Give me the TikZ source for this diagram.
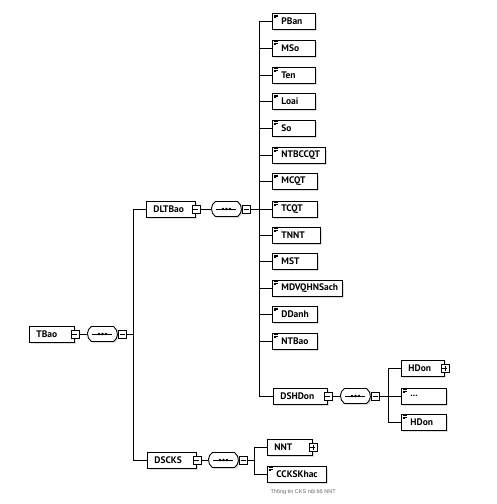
\documentclass[tikz,border=0pt]{standalone}
\usepackage{fontspec}
\setsansfont{PT Sans}
\newfontfamily\capfont{Liberation Sans}
\usepackage{tikz}
\usetikzlibrary{shapes.misc, shadows}

\tikzset{
  elem/.style={draw, line width=0.9pt, fill=white, anchor=west, minimum height=16pt,
    inner xsep=0pt, inner ysep=0pt, text width=#1, align=left,
    font=\sffamily\bfseries\fontsize{9.5}{10}\selectfont,
    drop shadow={shadow xshift=1.5pt, shadow yshift=-1.5pt, opacity=0.25}},
  branch/.style={elem=#1, execute at begin node=\hspace*{7pt}},
  leaf/.style={elem=#1, execute at begin node=\hspace*{9pt},
    path picture={
      \draw[black, line width=0.5pt] ([xshift=1.5pt,yshift=-1.5pt]path picture bounding box.north west) -- ++(4pt,0);
      \draw[black, line width=0.5pt] ([xshift=1.5pt,yshift=-2.8pt]path picture bounding box.north west) -- ++(4pt,0);
      \draw[black, line width=0.5pt] ([xshift=1.5pt,yshift=-4.1pt]path picture bounding box.north west) -- ++(2.5pt,0);}},
  minus/.style={draw, line width=0.7pt, fill=white, minimum size=8pt, inner sep=0pt,
    path picture={\draw[black, line width=0.7pt] ([xshift=1.5pt]path picture bounding box.west) -- ([xshift=-1.5pt]path picture bounding box.east);}},
  plus/.style={draw, line width=0.7pt, fill=white, minimum size=8pt, inner sep=0pt,
    path picture={
      \draw[black, line width=0.7pt] ([xshift=1.5pt]path picture bounding box.west) -- ([xshift=-1.5pt]path picture bounding box.east);
      \draw[black, line width=0.7pt] ([yshift=1.5pt]path picture bounding box.south) -- ([yshift=-1.5pt]path picture bounding box.north);}},
  seq/.style={rounded rectangle, rounded rectangle arc length=110, draw, line width=0.9pt, fill=white,
    anchor=west, minimum width=30pt, minimum height=15pt, inner sep=0pt,
    drop shadow={shadow xshift=1.5pt, shadow yshift=-1.5pt, opacity=0.25},
    path picture={
      \draw[black, line width=0.7pt] ([xshift=-10pt]path picture bounding box.center) -- ([xshift=10pt]path picture bounding box.center);
      \fill[black] ([xshift=-3.5pt]path picture bounding box.center) circle (1.4pt);
      \fill[black] (path picture bounding box.center) circle (1.4pt);
      \fill[black] ([xshift=3.5pt]path picture bounding box.center) circle (1.4pt);}},
  conn/.style={line width=0.9pt},
}

\begin{document}
\begin{tikzpicture}[x=1pt,y=-1pt]
\useasboundingbox (0,0) rectangle (496,504);

% root
\node[branch=45pt] (tbao) at (29,334) {TBao};
\node[minus] (tbaom) at (tbao.east) {};
\node[seq] (seq0) at (87,334) {};
\node[minus, anchor=west] (seq0m) at (seq0.east) {};
\coordinate (j0) at (133,334);

% DLTBao
\node[branch=49pt] (dltbao) at (146,209) {DLTBao};
\node[minus] (dltbaom) at (dltbao.east) {};
\node[seq] (seq1) at (211,209) {};
\node[minus, anchor=west] (seq1m) at (seq1.east) {};
\coordinate (j1) at (259,209);

\node[leaf=43pt] (pban) at (272,21.5) {PBan};
\node[leaf=43pt] (mso) at (272,48) {MSo};
\node[leaf=43pt] (ten) at (272,75) {Ten};
\node[leaf=43pt] (loai) at (272,101.5) {Loai};
\node[leaf=43pt] (so) at (272,128) {So};
\node[leaf=53pt] (ntbccqt) at (272,155) {NTBCCQT};
\node[leaf=45pt] (mcqt) at (272,181.5) {MCQT};
\node[leaf=45pt] (tcqt) at (272,209) {TCQT};
\node[leaf=48pt] (tnnt) at (272,235) {TNNT};
\node[leaf=45pt] (mst) at (272,261.5) {MST};
\node[leaf=70pt] (mdvqhnsach) at (272,288) {MDVQHNSach};
\node[leaf=45pt] (ddanh) at (272,314.5) {DDanh};
\node[leaf=45pt] (ntbao) at (272,341) {NTBao};

% DSHDon
\node[branch=54pt] (dshdon) at (273,396) {DSHDon};
\node[minus] (dshdonm) at (dshdon.east) {};
\node[seq] (seq2) at (340,396) {};
\node[minus, anchor=west] (seq2m) at (seq2.east) {};
\coordinate (j2) at (388,396);

\node[branch=43pt] (hdon) at (401,368.5) {HDon};
\node[plus] (hdonp) at (hdon.east) {};
\node[leaf=45pt] (hdonx) at (401,396) {...};
\node[leaf=45pt] (hdonn) at (401,422) {HDon};

% DSCKS
\node[branch=49pt] (dscks) at (147,460) {DSCKS};
\node[minus] (dscksm) at (dscks.east) {};
\node[seq] (seq3) at (208,460) {};
\node[minus, anchor=west] (seq3m) at (seq3.east) {};
\coordinate (j3) at (254,460);

\node[branch=45pt] (nnt) at (267,447) {NNT};
\node[plus] (nntp) at (nnt.east) {};
\node[leaf=59pt] (ccks) at (267,474) {CCKSKhac};
\node[anchor=west, font=\capfont\fontsize{5.5}{6}\selectfont, text=black!60] (cap) at (267,492) {Thông tin CKS nội bộ NNT};

% connectors
\draw[conn] (tbaom) -- (seq0);
\draw[conn] (seq0m) -- (j0);
\draw[conn] (j0) |- (dltbao.west) (j0) |- (dscks.west);
\draw[conn] (dltbaom) -- (seq1);
\draw[conn] (seq1m) -- (j1);
\draw[conn] (j1) |- (pban.west) (j1) |- (mso.west) (j1) |- (ten.west)
  (j1) |- (loai.west) (j1) |- (so.west) (j1) |- (ntbccqt.west)
  (j1) |- (mcqt.west) (j1) -- (tcqt.west) (j1) |- (tnnt.west)
  (j1) |- (mst.west) (j1) |- (mdvqhnsach.west) (j1) |- (ddanh.west)
  (j1) |- (ntbao.west) (j1) |- (dshdon.west);
\draw[conn] (dshdonm) -- (seq2);
\draw[conn] (seq2m) -- (j2);
\draw[conn] (j2) |- (hdon.west) (j2) -- (hdonx.west) (j2) |- (hdonn.west);
\draw[conn] (dscksm) -- (seq3);
\draw[conn] (seq3m) -- (j3);
\draw[conn] (j3) |- (nnt.west) (j3) |- (ccks.west);
\end{tikzpicture}
\end{document}
